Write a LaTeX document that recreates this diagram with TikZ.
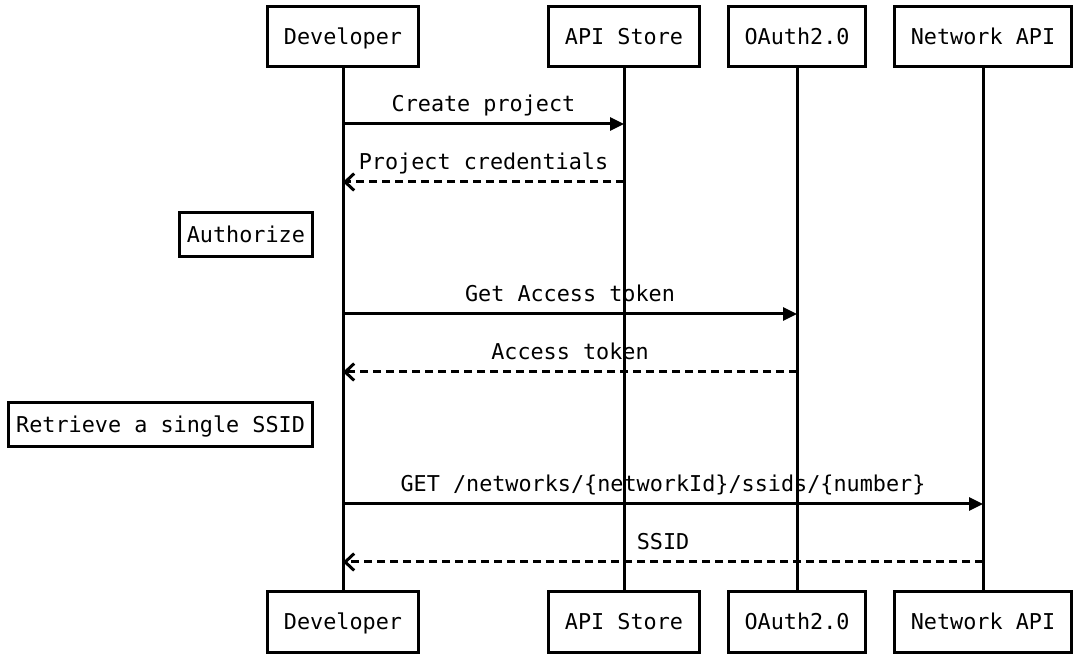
\documentclass[tikz,border=0pt]{standalone}
\usepackage{fontspec}
\setmonofont{DejaVu Sans Mono}
\usetikzlibrary{arrows.meta,positioning}
\tikzset{
  actorbox/.style={
    rectangle,
    draw=black,
    line width=1.5pt,
    fill=white,
    minimum height=30pt,
    inner xsep=8pt,
    text height=10pt,
    text depth=2.05pt,
    font=\ttfamily\fontsize{10.9pt}{13pt}\selectfont
  },
  notebox/.style={
    rectangle,
    draw=black,
    line width=1.5pt,
    fill=white,
    minimum height=22pt,
    inner xsep=3.8pt,
    text height=10pt,
    text depth=2.05pt,
    font=\ttfamily\fontsize{10.9pt}{13pt}\selectfont
  },
  lifeline/.style={line width=1.5pt},
  callline/.style={-{Triangle[length=7pt,width=6.5pt]},line width=1.5pt},
  replyline/.style={-{Straight Barb[length=4.5pt,width=8.5pt,line width=1.5pt]},line width=1.5pt,dash pattern=on 4pt off 2.5pt},
  msglabel/.style={midway,anchor=base,yshift=6pt,inner sep=0pt,
    font=\ttfamily\fontsize{10.9pt}{13pt}\selectfont}
}
\begin{document}
\begin{tikzpicture}[x=0.5pt,y=-0.5pt]
  \useasboundingbox (0,0) rectangle (1077,657);
  % participants, top and bottom
  \node[actorbox] (dev) at (343,37) {Developer};
  \node[actorbox] (store) at (624,37) {API Store};
  \node[actorbox] (oauth) at (797,37) {OAuth2.0};
  \node[actorbox] (netapi) at (983,37) {Network API};
  \node[actorbox] (devb) at (343,622) {Developer};
  \node[actorbox] (storeb) at (624,622) {API Store};
  \node[actorbox] (oauthb) at (797,622) {OAuth2.0};
  \node[actorbox] (netapib) at (983,622) {Network API};
  \draw[lifeline] (dev) -- (devb);
  \draw[lifeline] (store) -- (storeb);
  \draw[lifeline] (oauth) -- (oauthb);
  \draw[lifeline] (netapi) -- (netapib);
  % message rows
  \coordinate (m1) at (0,124);
  \coordinate (m2) at (0,182);
  \coordinate (m3) at (0,314);
  \coordinate (m4) at (0,372);
  \coordinate (m5) at (0,504);
  \coordinate (m6) at (0,562);
  \draw[callline] (dev |- m1) -- node[msglabel]{Create project} (store |- m1);
  \draw[replyline] (store |- m2) -- node[msglabel]{Project credentials} (dev |- m2);
  \node[notebox, anchor=east] (authnote) at (314,235) {Authorize};
  \draw[callline] (dev |- m3) -- node[msglabel]{Get Access token} (oauth |- m3);
  \draw[replyline] (oauth |- m4) -- node[msglabel]{Access token} (dev |- m4);
  \node[notebox, anchor=east] (ssidnote) at (314,424.5) {Retrieve a single SSID};
  \draw[callline] (dev |- m5) -- node[msglabel]{GET /networks/\{networkId\}/ssids/\{number\}} (netapi |- m5);
  \draw[replyline] (netapi |- m6) -- node[msglabel]{SSID} (dev |- m6);
\end{tikzpicture}
\end{document}
